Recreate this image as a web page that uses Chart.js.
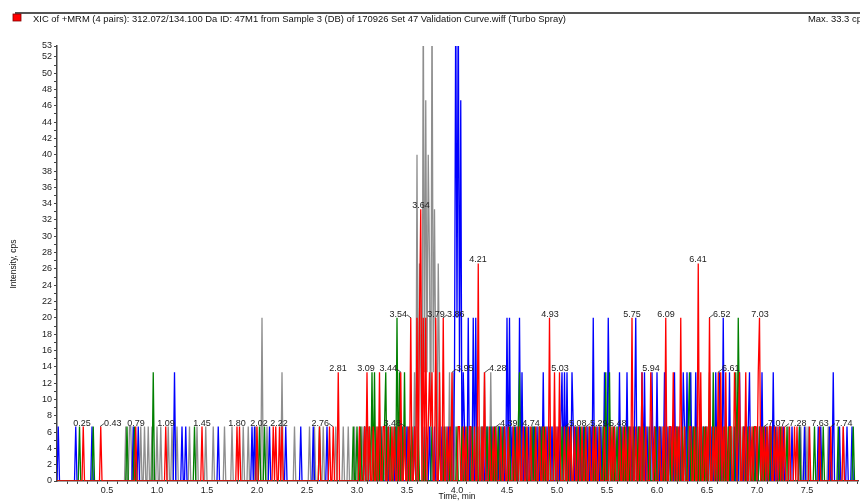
<!DOCTYPE html>
<html>
<head>
<meta charset="utf-8">
<script src="https://cdn.jsdelivr.net/npm/chart.js@4/dist/chart.umd.min.js"></script>
<style>
  html, body { margin: 0; padding: 0; background: #fff; }
  #wrap { width: 860px; height: 502px; }
</style>
</head>
<body>
<div id="wrap"><canvas id="xic" width="860" height="502"></canvas></div>
<script>
// scan spacing of each MRM pair, minutes
const scanStep = 0.0125;
const timeEnd = 8.01;
const oneCount = 6.67; // cps of a single ion count

// red: 312.072/134.100
const redBaseTimes = [0.26, 0.44, 0.79, 1.09, 1.45, 1.80, 1.82, 2.00, 2.16, 2.19, 2.22, 2.25, 2.63, 2.72, 2.76,
  3.03, 3.07, 3.13, 3.16, 3.20, 3.26, 3.28, 3.31, 3.35, 3.38, 3.41, 3.48, 3.51, 3.57, 3.71, 3.74, 3.90, 3.93, 4.01,
  4.03, 4.06, 4.09, 4.12, 4.14, 4.18, 4.25, 4.32, 4.36, 4.39, 4.44, 4.47, 4.51, 4.56, 4.60, 4.63, 4.66, 4.70, 4.74,
  4.79, 4.83, 4.86, 4.89, 5.00, 5.08, 5.11, 5.14, 5.18, 5.21, 5.25, 5.29, 5.33, 5.36, 5.39, 5.43, 5.48, 5.52, 5.55,
  5.58, 5.62, 5.66, 5.69, 5.72, 5.79, 5.82, 5.89, 5.95, 5.98, 6.03, 6.06, 6.12, 6.14, 6.19, 6.21, 6.27, 6.32, 6.34,
  6.37, 6.47, 6.50, 6.56, 6.59, 6.66, 6.72, 6.74, 6.79, 6.81, 6.86, 6.92, 6.95, 6.97, 6.99, 7.05, 7.07, 7.10, 7.12,
  7.14, 7.18, 7.20, 7.22, 7.25, 7.28, 7.33, 7.37, 7.40, 7.52, 7.63, 7.74, 7.86];
const redPeakTimes = [2.81, 3.10, 3.22, 3.44, 3.54, 3.60, 3.62, 3.64, 3.66, 3.69, 3.72, 3.75, 3.79, 3.83, 3.86, 3.95,
  4.21, 4.28, 4.93, 4.97, 5.03, 5.75, 5.85, 5.94, 6.09, 6.16, 6.24, 6.41, 6.44, 6.52, 6.61, 6.64, 6.69, 6.77, 6.83,
  6.89, 7.01, 7.03];
const redPeakCps = [13.33, 13.33, 13.33, 13.33, 20, 20, 20, 33.33, 20, 20, 13.33, 13.33, 20, 13.33, 20, 13.33,
  26.67, 13.33, 20, 13.33, 13.33, 20, 13.33, 13.33, 20, 13.33, 20, 26.67, 13.33, 20, 13.33, 13.33, 13.33, 13.33, 13.33,
  13.33, 13.33, 20];

// gray
const grayBaseTimes = [0.69, 0.72, 0.74, 0.84, 0.88, 0.91, 0.95, 1.00, 1.04, 1.11, 1.15, 1.20, 1.33, 1.40, 1.49, 1.56,
  1.67, 1.75, 1.86, 1.91, 1.99, 2.10, 2.37, 2.52, 2.58, 2.66, 2.79, 2.86, 2.91, 2.98, 3.02, 3.05, 3.09, 3.11, 3.19,
  3.22, 3.25, 3.29, 3.33, 3.36, 3.40, 3.45, 3.50, 3.53, 3.86, 3.89, 3.99, 4.08, 4.13, 4.18, 4.21, 4.24, 4.31, 4.37,
  4.41, 4.43, 4.48, 4.51, 4.58, 4.61, 4.64, 4.68, 4.72, 4.75, 4.77, 4.81, 4.85, 4.91, 4.95, 4.99, 5.02, 5.06, 5.09,
  5.13, 5.17, 5.20, 5.23, 5.27, 5.31, 5.35, 5.38, 5.41, 5.45, 5.50, 5.54, 5.57, 5.61, 5.64, 5.68, 5.73, 5.78, 5.81,
  5.84, 5.88, 5.91, 5.97, 6.01, 6.05, 6.08, 6.11, 6.14, 6.19, 6.22, 6.29, 6.32, 6.35, 6.40, 6.44, 6.50, 6.54, 6.58,
  6.61, 6.64, 6.69, 6.75, 6.79, 6.84, 6.87, 6.91, 6.97, 7.00, 7.08, 7.12, 7.15, 7.21, 7.25, 7.31, 7.44, 7.49, 7.51,
  7.71, 7.86];
const grayPeakTimes = [2.05, 2.25, 3.57, 3.60, 3.62, 3.63, 3.64, 3.66, 3.67, 3.69, 3.70, 3.71, 3.72, 3.73, 3.75, 3.76,
  3.77, 3.79, 3.81, 3.83, 3.92, 3.96, 4.27, 4.34];
const grayPeakCps = [20, 13.33, 13.33, 40, 13.33, 26.67, 13.33, 60, 13.33, 46.67, 13.33, 40, 13.33, 26.67, 60, 13.33,
  33.33, 13.33, 26.67, 13.33, 13.33, 13.33, 13.33, 13.33];

// blue
const blueBaseTimes = [0.01, 0.19, 0.35, 0.76, 0.81, 1.17, 1.25, 1.29, 1.61, 1.95, 1.97, 2.13, 2.29, 2.44, 2.56, 2.70,
  3.08, 3.24, 3.30, 3.39, 3.45, 3.50, 3.58, 3.68, 3.72, 3.78, 3.85, 3.91, 4.07, 4.14, 4.26, 4.30, 4.35, 4.39, 4.42,
  4.46, 4.55, 4.59, 4.67, 4.71, 4.76, 4.80, 4.84, 4.90, 4.95, 5.01, 5.04, 5.12, 5.16, 5.19, 5.22, 5.26, 5.30, 5.34,
  5.40, 5.44, 5.53, 5.58, 5.65, 5.68, 5.74, 5.77, 5.83, 5.90, 5.97, 6.04, 6.10, 6.13, 6.15, 6.20, 6.23, 6.28, 6.36,
  6.43, 6.46, 6.49, 6.52, 6.55, 6.63, 6.69, 6.77, 6.80, 6.88, 6.91, 6.98, 7.02, 7.09, 7.12, 7.19, 7.22, 7.26, 7.35,
  7.43, 7.48, 7.61, 7.64, 7.72, 7.83, 7.90, 7.95];
const bluePeakTimes = [1.18, 3.97, 3.99, 4.00, 4.01, 4.025, 4.04, 4.06, 4.11, 4.16, 4.19, 4.50, 4.53, 4.62, 4.65, 4.86,
  5.05, 5.07, 5.10, 5.15, 5.36, 5.47, 5.51, 5.62, 5.70, 5.79, 5.85, 5.88, 5.95, 6.00, 6.07, 6.17, 6.26, 6.30, 6.34,
  6.39, 6.59, 6.62, 6.66, 6.73, 6.83, 6.93, 7.05, 7.16, 7.76];
const bluePeakCps = [13.33, 13.33, 60, 20, 60, 13.33, 46.67, 13.33, 20, 20, 20, 20, 20, 20, 13.33, 13.33,
  13.33, 13.33, 13.33, 13.33, 20, 13.33, 20, 13.33, 13.33, 20, 13.33, 13.33, 13.33, 13.33, 13.33, 13.33, 13.33, 13.33, 13.33,
  13.33, 13.33, 13.33, 20, 13.33, 13.33, 13.33, 13.33, 13.33, 13.33];

// green
const greenBaseTimes = [0.22, 0.36, 0.70, 0.77, 1.37, 2.02, 2.08, 2.62, 2.96, 3.00, 3.04, 3.07, 3.13, 3.18, 3.21, 3.24,
  3.27, 3.31, 3.34, 3.37, 3.45, 3.52, 3.55, 3.61, 3.67, 3.75, 3.82, 3.88, 3.94, 4.00, 4.05, 4.10, 4.15, 4.20, 4.25,
  4.30, 4.34, 4.38, 4.41, 4.45, 4.48, 4.52, 4.57, 4.61, 4.69, 4.75, 4.78, 4.82, 4.85, 4.88, 4.92, 4.97, 5.05, 5.10,
  5.14, 5.20, 5.24, 5.28, 5.32, 5.37, 5.42, 5.46, 5.56, 5.60, 5.64, 5.67, 5.71, 5.76, 5.81, 5.86, 5.92, 5.99, 6.02,
  6.07, 6.12, 6.16, 6.20, 6.25, 6.28, 6.31, 6.36, 6.39, 6.43, 6.46, 6.49, 6.60, 6.63, 6.67, 6.71, 6.74, 6.83, 6.86,
  6.90, 6.93, 6.96, 7.00, 7.03, 7.06, 7.10, 7.14, 7.18, 7.24, 7.30, 7.42, 7.58, 7.66, 7.81, 7.96];
const greenPeakTimes = [0.96, 3.15, 3.17, 3.29, 3.40, 3.42, 3.47, 4.63, 5.49, 5.52, 6.33, 6.53, 6.56, 6.79, 6.81];
const greenPeakCps = [13.33, 13.33, 13.33, 13.33, 20, 13.33, 13.33, 13.33, 13.33, 13.33, 13.33, 13.33, 13.33, 13.33, 20];

// apex labels of the red trace
const peakLabels = ['0.25', '0.43', '0.79', '1.09', '1.45', '1.80', '2.02', '2.22', '2.76', '2.81', '3.09', '3.44',
  '3.48', '3.54', '3.64', '3.79', '3.86', '3.95', '4.21', '4.28', '4.39', '4.74', '4.93', '5.03', '5.08', '5.29',
  '5.48', '5.75', '5.94', '6.09', '6.41', '6.52', '6.61', '7.03', '7.07', '7.28', '7.63', '7.74'];
const peakLabelCps = [6.67, 6.67, 6.67, 6.67, 6.67, 6.67, 6.67, 6.67, 6.67, 13.33, 13.33, 13.33,
  6.67, 20, 33.33, 20, 20, 13.33, 26.67, 13.33, 6.67, 6.67, 20, 13.33, 6.67, 6.67,
  6.67, 20, 13.33, 20, 26.67, 20, 13.33, 20, 6.67, 6.67, 6.67, 6.67];

// which labels are pushed aside with a leader
const labelSide = {
  '0.43': 'r', '2.76': 'l', '3.44': 'l', '3.48': 'l', '3.54': 'l', '3.86': 'r', '3.95': 'r', '4.28': 'r',
  '4.39': 'r', '5.08': 'r', '5.29': 'r', '5.48': 'r', '6.52': 'r', '6.61': 'r', '7.07': 'r', '7.28': 'r', '7.74': 'r'
};

function buildTrace(baseTimes, peakTimes, peakCps) {
  const n = Math.round(timeEnd / scanStep);
  const vals = new Array(n + 1).fill(0);
  baseTimes.forEach(t => {
    const i = Math.round(t / scanStep);
    vals[i] = Math.max(vals[i], oneCount);
  });
  peakTimes.forEach((t, k) => {
    const i = Math.round(t / scanStep);
    vals[i] = Math.max(vals[i], peakCps[k]);
  });
  return vals.map((v, i) => ({ x: i * scanStep, y: v }));
}

const FONT = "'Liberation Sans', Arial, sans-serif";

const decorations = {
  id: 'decorations',
  afterDatasetsDraw(chart) {
    const ctx = chart.ctx;
    const xs = chart.scales.x, ys = chart.scales.y;
    ctx.save();
    ctx.font = '9px ' + FONT;
    ctx.fillStyle = '#222';
    ctx.strokeStyle = '#222';
    ctx.lineWidth = 0.8;
    ctx.textBaseline = 'alphabetic';
    peakLabels.forEach((lab, k) => {
      const px = xs.getPixelForValue(parseFloat(lab));
      const py = ys.getPixelForValue(peakLabelCps[k]);
      const side = labelSide[lab];
      if (side === 'r') {
        ctx.beginPath(); ctx.moveTo(px, py); ctx.lineTo(px + 4, py - 3); ctx.stroke();
        ctx.textAlign = 'left';
        ctx.fillText(lab, px + 4, py - 1);
      } else if (side === 'l') {
        ctx.beginPath(); ctx.moveTo(px, py); ctx.lineTo(px - 4, py - 3); ctx.stroke();
        ctx.textAlign = 'right';
        ctx.fillText(lab, px - 4, py - 1);
      } else {
        ctx.textAlign = 'center';
        ctx.fillText(lab, px, py - 1);
      }
    });
    ctx.restore();
  },
  afterDraw(chart) {
    const ctx = chart.ctx;
    ctx.save();
    // header rule and legend swatch
    ctx.strokeStyle = '#555';
    ctx.lineWidth = 2;
    ctx.beginPath(); ctx.moveTo(15, 13); ctx.lineTo(860, 13); ctx.stroke();
    ctx.fillStyle = '#ff0000';
    ctx.fillRect(13, 14, 8, 7);
    ctx.strokeStyle = '#800000';
    ctx.lineWidth = 0.8;
    ctx.strokeRect(13, 14, 8, 7);

    ctx.fillStyle = '#111';
    ctx.font = '9px ' + FONT;
    ctx.textBaseline = 'alphabetic';
    ctx.textAlign = 'left';
    const title = 'XIC of +MRM (4 pairs): 312.072/134.100 Da ID: 47M1 from Sample 3 (DB) of 170926 Set 47 Validation Curve.wiff (Turbo Spray)';
    const tw = ctx.measureText(title).width;
    const sx = 533 / tw;
    ctx.save();
    ctx.translate(33, 22);
    ctx.scale(sx, 1);
    ctx.fillText(title, 0, 0);
    ctx.restore();
    ctx.save();
    ctx.translate(808, 22);
    ctx.scale(sx, 1);
    ctx.fillText('Max. 33.3 cps.', 0, 0);
    ctx.restore();

    // axis titles
    ctx.font = '8.5px ' + FONT;
    ctx.textAlign = 'center';
    ctx.textBaseline = 'middle';
    ctx.fillText('Time, min', 457, 497);
    ctx.save();
    ctx.translate(14, 264);
    ctx.rotate(-Math.PI / 2);
    ctx.fillText('Intensity, cps', 0, 0);
    ctx.restore();
    ctx.restore();
  }
};

const traceStyle = (label, data, color) => ({
  label, data, borderColor: color, borderWidth: 1.3, pointRadius: 0, tension: 0, fill: false
});

new Chart(document.getElementById('xic'), {
  type: 'line',
  data: {
    datasets: [
      traceStyle('312.072/134.100', buildTrace(redBaseTimes, redPeakTimes, redPeakCps), '#ff0000'),
      traceStyle('green', buildTrace(greenBaseTimes, greenPeakTimes, greenPeakCps), '#008000'),
      traceStyle('blue', buildTrace(blueBaseTimes, bluePeakTimes, bluePeakCps), '#0000ff'),
      traceStyle('gray', buildTrace(grayBaseTimes, grayPeakTimes, grayPeakCps), '#8e8e8e')
    ]
  },
  options: {
    responsive: false,
    animation: false,
    devicePixelRatio: 1,
    layout: { padding: { top: 46, right: 2, left: 0, bottom: 0 } },
    plugins: { legend: { display: false }, tooltip: { enabled: false } },
    scales: {
      x: {
        type: 'linear',
        min: 0,
        max: timeEnd,
        afterFit(scale) { scale.height = 21; },
        afterBuildTicks(scale) {
          const t = [];
          for (let i = 1; i <= 80; i++) t.push({ value: i / 10 });
          scale.ticks = t;
        },
        ticks: {
          autoSkip: false,
          maxRotation: 0,
          padding: 1,
          color: '#222',
          font: { size: 9, family: FONT },
          callback(v) {
            const k = Math.round(v * 10);
            return (k % 5 === 0 && k < 80) ? (k / 10).toFixed(1) : '';
          }
        },
        grid: { drawOnChartArea: false, drawTicks: true, tickLength: 3, color: '#444' },
        border: { display: true, color: '#444', width: 1.5 }
      },
      y: {
        min: 0,
        max: 53.33,
        afterFit(scale) { scale.width = 57; },
        afterBuildTicks(scale) {
          const t = [];
          for (let i = 0; i <= 52; i++) t.push({ value: i });
          t.push({ value: 53.33 });
          scale.ticks = t;
        },
        ticks: {
          autoSkip: false,
          padding: 2,
          color: '#222',
          font: { size: 9, family: FONT },
          callback(v) {
            if (v > 53) return '53';
            return v % 2 === 0 ? String(v) : '';
          }
        },
        grid: { drawOnChartArea: false, drawTicks: true, tickLength: 3, color: '#444' },
        border: { display: true, color: '#444', width: 1.5 }
      }
    }
  },
  plugins: [decorations]
});
</script>
</body>
</html>
